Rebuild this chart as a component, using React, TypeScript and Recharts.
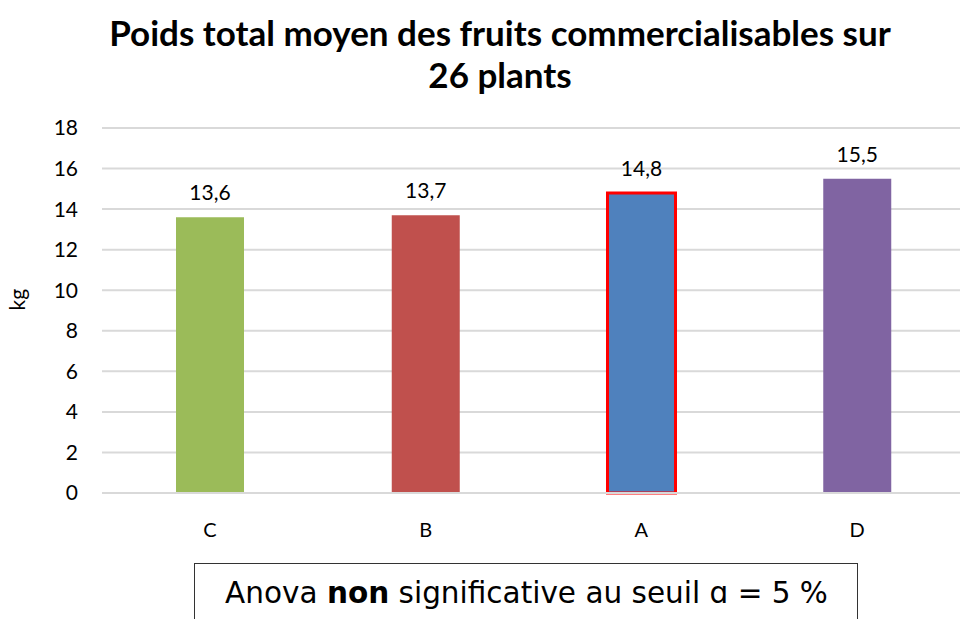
import React from "react";
import { BarChart, Bar, XAxis, YAxis, CartesianGrid, Cell, LabelList } from "recharts";

const categories = ["C", "B", "A", "D"];
const values = [13.6, 13.7, 14.8, 15.5];
const colors = ["#9BBB59", "#C0504D", "#4F81BD", "#8064A2"];
const yTicks = [0, 2, 4, 6, 8, 10, 12, 14, 16, 18];
const titleLines = ["Poids total moyen des fruits commercialisables sur", "26 plants"];
const yLabel = "kg";

const data = categories.map((c, i) => ({ name: c, value: values[i] }));

const fmt = (v: any) => String(v).replace(".", ",");

export default function App() {
  return (
    <div style={{ position: "absolute", left: 0, top: 0, width: 960, height: 619, overflow: "hidden", background: "#fff", fontFamily: "Lato, sans-serif" }}>
      <div style={{ position: "absolute", left: 0, top: 11, width: 1000, textAlign: "center", fontWeight: 700, fontSize: 35, lineHeight: "42px", color: "#000" }}>
        <div>{titleLines[0]}</div>
        <div>{titleLines[1]}</div>
      </div>
      <div style={{ position: "absolute", left: 0, top: 0 }}>
        <BarChart width={980} height={619} data={data} margin={{ top: 128, right: 15, bottom: 86, left: 0 }}>
          <CartesianGrid vertical={false} stroke="#D9D9D9" strokeWidth={2} />
          <XAxis
            dataKey="name"
            height={40}
            axisLine={{ stroke: "#D9D9D9", strokeWidth: 2 }}
            tickLine={false}
            tick={{ fontSize: 20, fill: "#000" }}
            dy={22}
          />
          <YAxis
            width={102}
            domain={[0, 18]}
            ticks={yTicks}
            axisLine={false}
            tickLine={false}
            tick={{ fontSize: 21, fill: "#000" }}
            dx={-16}
            label={{ value: yLabel, angle: -90, position: "insideLeft", offset: 18, style: { fontSize: 21, fill: "#000" } }}
          />
          <Bar dataKey="value" barSize={68} isAnimationActive={false}>
            {data.map((d, i) => (
              <Cell key={d.name} fill={colors[i]} stroke={d.name === "A" ? "#FF0000" : "none"} strokeWidth={d.name === "A" ? 3 : 0} />
            ))}
            <LabelList dataKey="value" position="top" offset={17} formatter={fmt} style={{ fontSize: 21, fill: "#000" }} />
          </Bar>
        </BarChart>
      </div>
      <div style={{ position: "absolute", left: 194, top: 563, width: 662, height: 70, border: "1.5px solid #333", background: "#fff" }} />
      <div style={{ position: "absolute", left: 194, top: 575, width: 665, textAlign: "center", fontFamily: "'DejaVu Sans', sans-serif", fontSize: 29.5, lineHeight: "36px", color: "#000" }}>
        Anova <b>non</b> significative au seuil ɑ = 5 %
      </div>
    </div>
  );
}
